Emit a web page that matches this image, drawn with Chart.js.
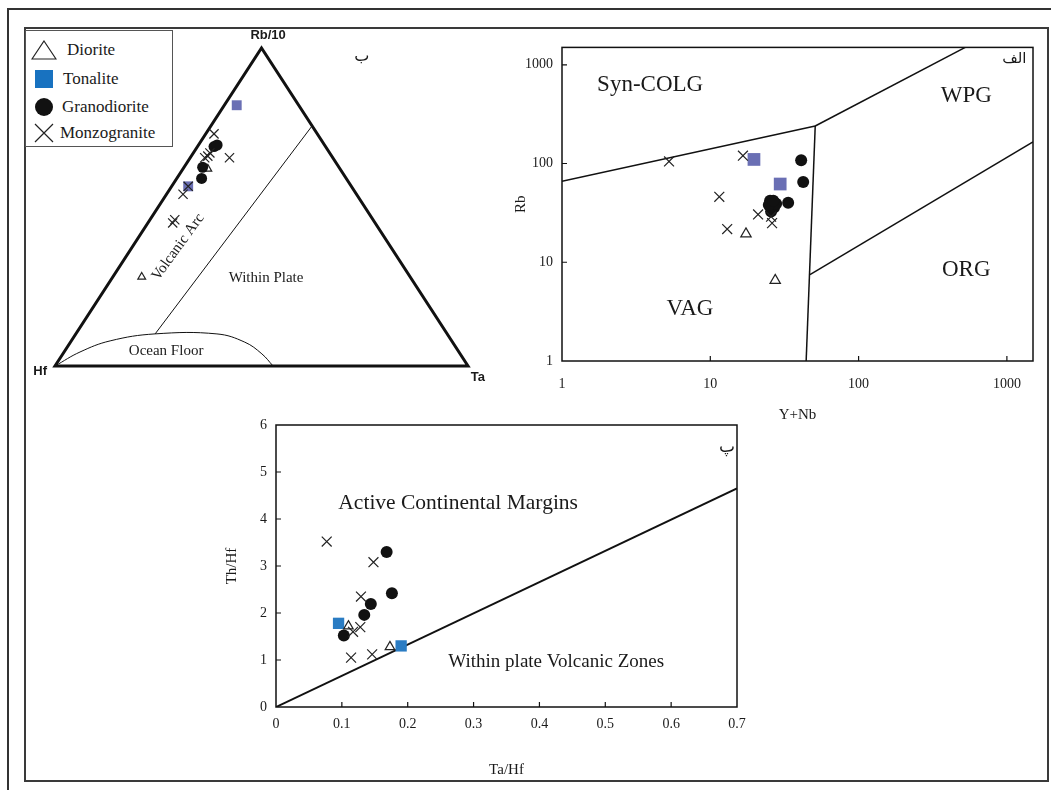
<!DOCTYPE html>
<html>
<head>
<meta charset="utf-8">
<script src="https://cdn.jsdelivr.net/npm/chart.js@4.4.1/dist/chart.umd.min.js"></script>
<style>
html, body { margin: 0; padding: 0; background: #fff; }
body { width: 1051px; height: 790px; position: relative; overflow: hidden; font-family: 'Liberation Serif', 'Times New Roman', serif; }
.outer { position: absolute; left: 7px; top: 8px; width: 1100px; height: 900px; border-left: 2px solid #333; border-top: 2px solid #333; }
.inner { position: absolute; left: 24px; top: 27px; width: 1021px; height: 751px; border: 2px solid #3a3a3a; }
.panel { position: absolute; }
#legend { position: absolute; left: 25px; top: 30px; width: 146px; height: 115px; border: 1px solid #555; background: #fff; z-index: 5; }
.row { position: absolute; font-size: 17px; color: #1a1a1a; line-height: 20px; white-space: nowrap; }
.sym { position: absolute; }
</style>
</head>
<body>
<div class="outer"></div>
<div class="inner"></div>

<div class="panel" style="left:30px;top:30px;width:460px;height:360px;"><canvas id="ternary"></canvas></div>
<div class="panel" style="left:480px;top:30px;width:570px;height:398px;"><canvas id="pearce"></canvas></div>
<div class="panel" style="left:200px;top:400px;width:560px;height:390px;"><canvas id="tahf"></canvas></div>

<div id="legend">
  <svg class="sym" style="left:5px;top:9px" width="26" height="20"><polygon points="13,1 25,19 1,19" fill="none" stroke="#222" stroke-width="1.2"/></svg>
  <div class="row" style="left:41px;top:9px">Diorite</div>
  <svg class="sym" style="left:9px;top:39px" width="18" height="18"><rect x="0" y="0" width="18" height="18" fill="#1872c0"/></svg>
  <div class="row" style="left:37px;top:38px">Tonalite</div>
  <svg class="sym" style="left:8px;top:66px" width="20" height="20"><circle cx="10" cy="10" r="9" fill="#111"/></svg>
  <div class="row" style="left:36px;top:66px">Granodiorite</div>
  <svg class="sym" style="left:8px;top:92px" width="20" height="20"><path d="M1,1 L19,19 M19,1 L1,19" stroke="#222" stroke-width="1.2"/></svg>
  <div class="row" style="left:34px;top:92px">Monzogranite</div>
</div>

<script>
// ---- Ternary Hf - Ta - Rb/10 (percent: [Hf, Ta, Rb/10]) ----
const TERN_DIORITE = [[32, 6, 62], [65, 7, 28]];
const TERN_TONALITE = [[15, 3, 82], [39.5, 4, 56.5]];
const TERN_GRANODIORITE = [[27, 4, 69], [26, 4.5, 69.5], [33, 4.5, 62.5], [35, 6, 59]];
const TERN_MONZOGRANITE = [[25, 2, 73], [30, 4, 66], [31, 3.5, 65.5], [29, 4, 67], [25, 9.5, 65.5],
  [39.5, 4, 56.5], [42, 4, 54], [49, 6, 45], [48, 6, 46]];
const TERN_OUTLINE = [[50, 50, 0], [0, 100, 0], [0, 0, 100], [100, 0, 0], [50, 50, 0]];
const TERN_ARC_LINE = [[70.7, 19.2, 10.1], [0, 24.5, 75.5]];
const TERN_OCEAN_FLOOR = [[100, 0, 0], [91.75, 3.85, 4.4], [82.7, 9.4, 7.9], [70.7, 19.2, 10.1],
  [55.8, 34.2, 10.1], [50.3, 42.2, 7.5], [48, 48.2, 3.8], [47.2, 52.8, 0]];

// ---- Rb vs Y+Nb ([Y+Nb, Rb]) ----
const PEARCE_DIORITE = [[17.4, 19.4], [27.4, 6.55]];
const PEARCE_TONALITE = [[19.7, 110], [29.6, 62]];
const PEARCE_GRANODIORITE = [[41, 108], [42.3, 65], [25.3, 41.9], [26.9, 35.8], [25.7, 32.7],
  [27.8, 39.2], [33.5, 40], [24.8, 38], [26.6, 42]];
const PEARCE_MONZOGRANITE = [[5.27, 105], [16.6, 120], [11.5, 46], [21, 30.5], [26.1, 24.9],
  [25.7, 29], [13, 21.7]];
const PEARCE_SYNCOLG_VAG = [[1, 66], [51, 240]];
const PEARCE_SYNCOLG_WPG = [[51, 240], [524, 1500]];
const PEARCE_VAG_ORG = [[44.3, 1], [51, 240]];
const PEARCE_ORG_WPG = [[47, 7.5], [1500, 166]];
const LOG_TICKS = [1, 10, 100, 1000];

// ---- Th/Hf vs Ta/Hf ----
const TAHF_DIORITE = [0.110, 0.173];
const THHF_DIORITE = [1.72, 1.28];
const TAHF_TONALITE = [0.095, 0.190];
const THHF_TONALITE = [1.78, 1.30];
const TAHF_GRANODIORITE = [0.168, 0.176, 0.144, 0.134, 0.103];
const THHF_GRANODIORITE = [3.30, 2.42, 2.19, 1.96, 1.52];
const TAHF_MONZOGRANITE = [0.077, 0.148, 0.129, 0.117, 0.128, 0.114, 0.146];
const THHF_MONZOGRANITE = [3.52, 3.08, 2.35, 1.60, 1.70, 1.05, 1.12];
const TAHF_BOUNDARY = [0, 0.7];
const THHF_BOUNDARY = [0, 4.65];

Chart.defaults.font.family = "'Liberation Serif', 'Times New Roman', serif";
Chart.defaults.color = '#1a1a1a';
Chart.defaults.animation = false;
Chart.defaults.plugins.legend.display = false;
Chart.defaults.plugins.tooltip.enabled = false;

const tern = p => {
  const s = p[0] + p[1] + p[2];
  const ta = p[1] / s, rb = p[2] / s;
  return { x: ta + rb / 2, y: rb };
};
const pairs = arr => arr.map(p => ({ x: p[0], y: p[1] }));
const zip = (xs, ys) => xs.map((x, i) => ({ x: x, y: ys[i] }));

// рамка, внутренние засечки и подписи полей
const decor = {
  id: 'decor',
  afterDatasetsDraw(chart, args, o) {
    const ctx = chart.ctx, a = chart.chartArea;
    const sx = chart.scales.x, sy = chart.scales.y;
    ctx.save();
    if (o.box) {
      ctx.strokeStyle = '#111';
      ctx.lineWidth = o.box;
      ctx.strokeRect(a.left, a.top, a.right - a.left, a.bottom - a.top);
    }
    if (o.tick) {
      ctx.strokeStyle = '#111';
      ctx.lineWidth = 1.2;
      ctx.beginPath();
      sx.ticks.forEach(t => {
        const p = sx.getPixelForValue(t.value);
        if (p > a.left + 2 && p < a.right - 2) { ctx.moveTo(p, a.bottom); ctx.lineTo(p, a.bottom - o.tick); }
      });
      sy.ticks.forEach(t => {
        const p = sy.getPixelForValue(t.value);
        if (p > a.top + 2 && p < a.bottom - 2) { ctx.moveTo(a.left, p); ctx.lineTo(a.left + o.tick, p); }
      });
      ctx.stroke();
    }
    (o.texts || []).forEach(t => {
      ctx.save();
      ctx.translate(sx.getPixelForValue(t.x), sy.getPixelForValue(t.y));
      if (t.rot) ctx.rotate(t.rot * Math.PI / 180);
      ctx.font = t.font;
      ctx.fillStyle = '#1a1a1a';
      ctx.textAlign = 'center';
      ctx.textBaseline = 'middle';
      ctx.fillText(t.text, 0, 0);
      ctx.restore();
    });
    ctx.restore();
  }
};

const SERIF = "'Liberation Serif', 'Times New Roman', serif";
const SANS = "'Liberation Sans', Arial, sans-serif";

function points(data, style, radius, color, fill) {
  return {
    type: 'scatter', data: data, pointStyle: style, pointRadius: radius,
    borderColor: color, backgroundColor: fill, pointBorderWidth: style === 'crossRot' || style === 'triangle' ? 1.2 : 0,
    clip: false
  };
}
function line(data, width, extra) {
  return Object.assign({
    type: 'line', data: data, showLine: true, borderColor: '#111', borderWidth: width,
    pointRadius: 0, fill: false, tension: 0
  }, extra || {});
}

// ---- ternary ----
new Chart(document.getElementById('ternary'), {
  type: 'scatter',
  data: {
    datasets: [
      points(TERN_MONZOGRANITE.map(tern), 'crossRot', 6.5, '#222', '#222'),
      points(TERN_GRANODIORITE.map(tern), 'circle', 5.5, '#111', '#111'),
      points(TERN_DIORITE.map(tern), 'triangle', 4.5, '#222', '#fff'),
      points(TERN_TONALITE.map(tern), 'rect', 7, '#6a6fb4', '#6a6fb4'),
      line(TERN_OUTLINE.map(tern), 3, { borderJoinStyle: 'miter', clip: false }),
      line(TERN_ARC_LINE.map(tern), 1, { clip: false }),
      line(TERN_OCEAN_FLOOR.map(tern), 1, { tension: 0.4, clip: false })
    ]
  },
  options: {
    responsive: true, maintainAspectRatio: false,
    layout: { padding: { left: 25, right: 22, top: 18, bottom: 24 } },
    scales: {
      x: { type: 'linear', min: 0, max: 1, display: false },
      y: { type: 'linear', min: 0, max: 1, display: false }
    },
    plugins: {
      decor: {
        texts: [
          { text: 'Rb/10', x: 0.516, y: 1.038, font: 'bold 13px ' + SANS },
          { text: 'Hf', x: -0.036, y: -0.016, font: 'bold 13px ' + SANS },
          { text: 'Ta', x: 1.024, y: -0.035, font: 'bold 13px ' + SANS },
          { text: 'ب', x: 0.743, y: 0.972, font: "16px 'DejaVu Sans', sans-serif" },
          { text: 'Volcanic Arc', x: 0.298, y: 0.374, rot: -54, font: '15px ' + SERIF },
          { text: 'Within Plate', x: 0.511, y: 0.277, font: '15px ' + SERIF },
          { text: 'Ocean Floor', x: 0.269, y: 0.047, font: '15px ' + SERIF }
        ]
      }
    }
  },
  plugins: [decor]
});

// ---- Rb vs Y+Nb ----
new Chart(document.getElementById('pearce'), {
  type: 'scatter',
  data: {
    datasets: [
      points(pairs(PEARCE_MONZOGRANITE), 'crossRot', 7, '#222', '#222'),
      points(pairs(PEARCE_GRANODIORITE), 'circle', 6, '#111', '#111'),
      points(pairs(PEARCE_DIORITE), 'triangle', 6, '#222', '#fff'),
      points(pairs(PEARCE_TONALITE), 'rect', 9, '#6a6fb4', '#6a6fb4'),
      line(pairs(PEARCE_SYNCOLG_VAG), 1.5),
      line(pairs(PEARCE_SYNCOLG_WPG), 1.5),
      line(pairs(PEARCE_VAG_ORG), 1.5),
      line(pairs(PEARCE_ORG_WPG), 1.5)
    ]
  },
  options: {
    responsive: true, maintainAspectRatio: false,
    layout: { padding: { left: 28, right: 17, top: 9, bottom: 0 } },
    scales: {
      x: {
        type: 'logarithmic', position: 'bottom', min: 1, max: 1500,
        grid: { display: false, drawTicks: false }, border: { display: false },
        afterBuildTicks: s => { s.ticks = LOG_TICKS.map(v => ({ value: v })); },
        afterFit: s => { s.height = 67; },
        ticks: { padding: 15, font: { size: 14 }, autoSkip: false, maxRotation: 0, callback: v => String(v) },
        title: { display: true, text: 'Y+Nb', font: { size: 15 }, padding: { top: 4, bottom: 4 } }
      },
      y: {
        type: 'logarithmic', position: 'left', min: 1, max: 1500,
        grid: { display: false, drawTicks: false }, border: { display: false },
        afterBuildTicks: s => { s.ticks = LOG_TICKS.map(v => ({ value: v })); },
        afterFit: s => { s.width = 54; },
        ticks: { padding: 9, font: { size: 14 }, autoSkip: false, callback: v => String(v) },
        title: { display: true, text: 'Rb', font: { size: 15 }, padding: { top: 4, bottom: 4 } }
      }
    },
    plugins: {
      decor: {
        box: 1.5, tick: 5,
        texts: [
          { text: 'Syn-COLG', x: 3.93, y: 620, font: '23px ' + SERIF },
          { text: 'WPG', x: 532, y: 480, font: '23px ' + SERIF },
          { text: 'ORG', x: 532, y: 8.3, font: '23px ' + SERIF },
          { text: 'VAG', x: 7.3, y: 3.4, font: '23px ' + SERIF },
          { text: 'الف', x: 1122, y: 1140, font: "15px 'DejaVu Sans', sans-serif" }
        ]
      }
    }
  },
  plugins: [decor]
});

// ---- Th/Hf vs Ta/Hf ----
new Chart(document.getElementById('tahf'), {
  type: 'scatter',
  data: {
    datasets: [
      points(zip(TAHF_MONZOGRANITE, THHF_MONZOGRANITE), 'crossRot', 7, '#222', '#222'),
      points(zip(TAHF_GRANODIORITE, THHF_GRANODIORITE), 'circle', 6, '#111', '#111'),
      points(zip(TAHF_DIORITE, THHF_DIORITE), 'triangle', 5.5, '#222', '#fff'),
      points(zip(TAHF_TONALITE, THHF_TONALITE), 'rect', 8, '#2a7cc3', '#2a7cc3'),
      line(zip(TAHF_BOUNDARY, THHF_BOUNDARY), 2)
    ]
  },
  options: {
    responsive: true, maintainAspectRatio: false,
    layout: { padding: { left: 19, right: 23, top: 25, bottom: 7 } },
    scales: {
      x: {
        type: 'linear', min: 0, max: 0.7,
        grid: { display: false, drawTicks: false }, border: { display: false },
        afterFit: s => { s.height = 76; },
        ticks: { stepSize: 0.1, padding: 9, font: { size: 14 }, callback: v => v === 0 ? '0' : v.toFixed(1) },
        title: { display: true, text: 'Ta/Hf', font: { size: 15 }, padding: { top: 4, bottom: 4 } }
      },
      y: {
        type: 'linear', min: 0, max: 6,
        grid: { display: false, drawTicks: false }, border: { display: false },
        afterFit: s => { s.width = 57; },
        ticks: { stepSize: 1, padding: 9, font: { size: 14 } },
        title: { display: true, text: 'Th/Hf', font: { size: 15 }, padding: { top: 4, bottom: 4 } }
      }
    },
    plugins: {
      decor: {
        box: 1.5, tick: 5,
        texts: [
          { text: 'Active Continental Margins', x: 0.2766, y: 4.34, font: '21.5px ' + SERIF },
          { text: 'Within plate Volcanic Zones', x: 0.4255, y: 0.957, font: '19px ' + SERIF },
          { text: 'پ', x: 0.685, y: 5.53, font: "17px 'DejaVu Sans', sans-serif" }
        ]
      }
    }
  },
  plugins: [decor]
});
</script>
</body>
</html>
